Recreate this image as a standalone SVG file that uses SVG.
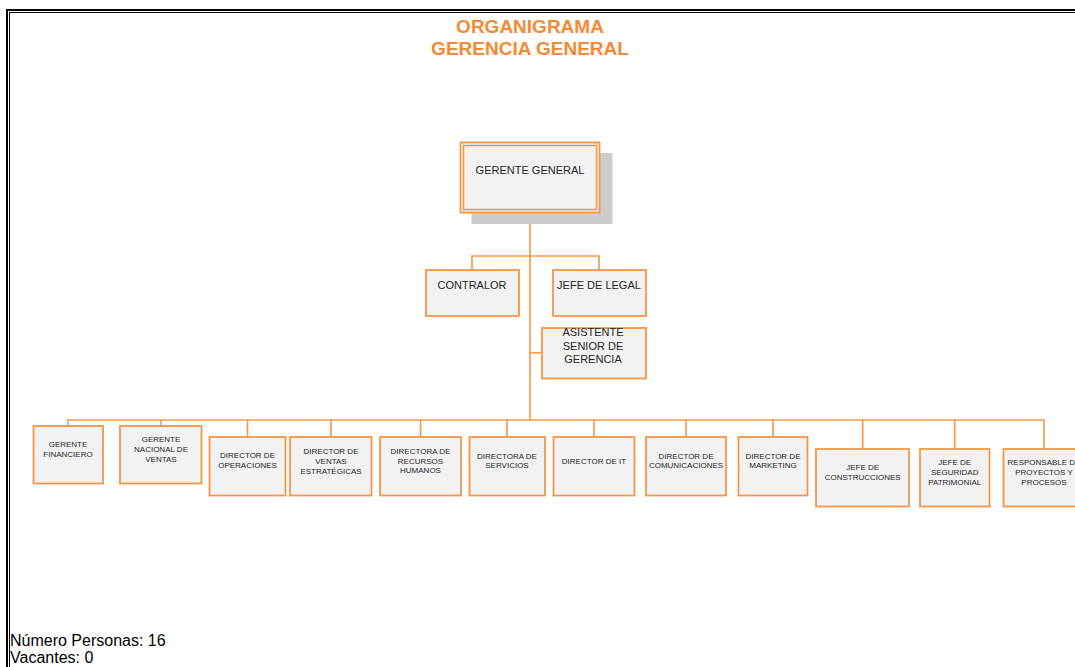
<svg xmlns="http://www.w3.org/2000/svg" width="1075" height="667" viewBox="0 0 1075 667">
<style>
.title{font-family:"Liberation Sans",Arial,sans-serif;font-weight:bold;font-size:19px;fill:#F58A33;text-anchor:middle}
.box{fill:#F2F2F2;stroke:#F79646;stroke-width:1.8}
.t11{font-family:"Liberation Sans",Arial,sans-serif;font-size:11px;fill:#262626;text-anchor:middle}
.t8{font-family:"Liberation Sans",Arial,sans-serif;font-size:8px;fill:#262626;text-anchor:middle}
.foot{font-family:"Liberation Sans",Arial,sans-serif;font-size:16px;fill:#000}
.con{stroke:#F79646;stroke-width:1.6;fill:none}
</style>
<rect x="0" y="0" width="1075" height="667" fill="#fff"/>
<rect x="7" y="10" width="1100" height="700" fill="none" stroke="#000" stroke-width="2"/>
<rect x="9.5" y="12.5" width="1100" height="700" fill="none" stroke="#000" stroke-width="1"/>
<text class="title" x="530" y="33">ORGANIGRAMA</text>
<text class="title" x="530" y="55">GERENCIA GENERAL</text>
<g id="connectors">
<path class="con" d="M530 213 V420"/>
<path class="con" d="M472 270 V256 H599 V270"/>
<path class="con" d="M530 352.7 H542"/>
<path class="con" d="M68 426 V420 H1044 V449"/>
<path class="con" d="M161 420 V426 M247.5 420 V437 M331 420 V437 M420.5 420 V437 M507 420 V437 M594 420 V437 M686 420 V437 M773 420 V437 M862.7 420 V449 M954.7 420 V449"/>
</g>
<g id="gerente-general">
<rect x="471.5" y="153" width="141" height="71" fill="#CCCCCC"/>
<rect x="460.5" y="142.5" width="139" height="70" fill="#F2F2F2" stroke="#F79646" stroke-width="1.8"/>
<rect x="463.5" y="145.5" width="133" height="64" fill="none" stroke="#F79646" stroke-width="1.5"/>
<text class="t11" x="530" y="174">GERENTE GENERAL</text>
</g>
<g id="contralor">
<rect class="box" x="426" y="270" width="93" height="46"/>
<text class="t11" x="472" y="289">CONTRALOR</text>
</g>
<g id="jefe-legal">
<rect class="box" x="553" y="270" width="93" height="46"/>
<text class="t11" x="599" y="289">JEFE DE LEGAL</text>
</g>
<g id="asistente">
<rect class="box" x="542" y="328" width="104" height="50.5"/>
<text class="t11" x="593" y="336">ASISTENTE</text>
<text class="t11" x="593" y="349.5">SENIOR DE</text>
<text class="t11" x="593" y="362.5">GERENCIA</text>
</g>
<g id="gerente-financiero">
<rect class="box" x="33.5" y="426" width="69.5" height="57.5"/>
<text class="t8" x="68" y="447.2">GERENTE</text>
<text class="t8" x="68" y="457">FINANCIERO</text>
</g>
<g id="gerente-nacional">
<rect class="box" x="120" y="426" width="81.5" height="57.5"/>
<text class="t8" x="161" y="442.2">GERENTE</text>
<text class="t8" x="161" y="452">NACIONAL DE</text>
<text class="t8" x="161" y="462">VENTAS</text>
</g>
<g id="director-operaciones">
<rect class="box" x="209.5" y="437" width="76" height="58.5"/>
<text class="t8" x="247.5" y="458">DIRECTOR DE</text>
<text class="t8" x="247.5" y="468">OPERACIONES</text>
</g>
<g id="director-ventas">
<rect class="box" x="290" y="437" width="81.5" height="58.5"/>
<text class="t8" x="331" y="454">DIRECTOR DE</text>
<text class="t8" x="331" y="464">VENTAS</text>
<text class="t8" x="331" y="474">ESTRATÉGICAS</text>
</g>
<g id="directora-rrhh">
<rect class="box" x="380" y="437" width="81" height="58.5"/>
<text class="t8" x="420.5" y="454">DIRECTORA DE</text>
<text class="t8" x="420.5" y="463.5">RECURSOS</text>
<text class="t8" x="420.5" y="473.3">HUMANOS</text>
</g>
<g id="directora-servicios">
<rect class="box" x="469.5" y="437" width="75.5" height="58.5"/>
<text class="t8" x="507" y="458.6">DIRECTORA DE</text>
<text class="t8" x="507" y="468.3">SERVICIOS</text>
</g>
<g id="director-it">
<rect class="box" x="553.5" y="437" width="81" height="58.5"/>
<text class="t8" x="594" y="463.6">DIRECTOR DE IT</text>
</g>
<g id="director-comunicaciones">
<rect class="box" x="646" y="437" width="80" height="58.5"/>
<text class="t8" x="686" y="458.6">DIRECTOR DE</text>
<text class="t8" x="686" y="468.3">COMUNICACIONES</text>
</g>
<g id="director-marketing">
<rect class="box" x="738.5" y="437" width="69" height="58.5"/>
<text class="t8" x="773" y="458.6">DIRECTOR DE</text>
<text class="t8" x="773" y="468.3">MARKETING</text>
</g>
<g id="jefe-construcciones">
<rect class="box" x="816" y="449" width="93" height="57.5"/>
<text class="t8" x="862.7" y="470.2">JEFE DE</text>
<text class="t8" x="862.7" y="480.2">CONSTRUCCIONES</text>
</g>
<g id="jefe-seguridad">
<rect class="box" x="920" y="449" width="69.5" height="57.5"/>
<text class="t8" x="954.7" y="465.2">JEFE DE</text>
<text class="t8" x="954.7" y="475">SEGURIDAD</text>
<text class="t8" x="954.7" y="484.6">PATRIMONIAL</text>
</g>
<g id="responsable-proyectos">
<rect class="box" x="1003.5" y="449" width="82" height="57.5"/>
<text class="t8" x="1044" y="465.2">RESPONSABLE DE</text>
<text class="t8" x="1044" y="475">PROYECTOS Y</text>
<text class="t8" x="1044" y="484.6">PROCESOS</text>
</g>
<text class="foot" x="10" y="645.5">Número Personas: 16</text>
<text class="foot" x="10" y="663">Vacantes: 0</text>
</svg>
